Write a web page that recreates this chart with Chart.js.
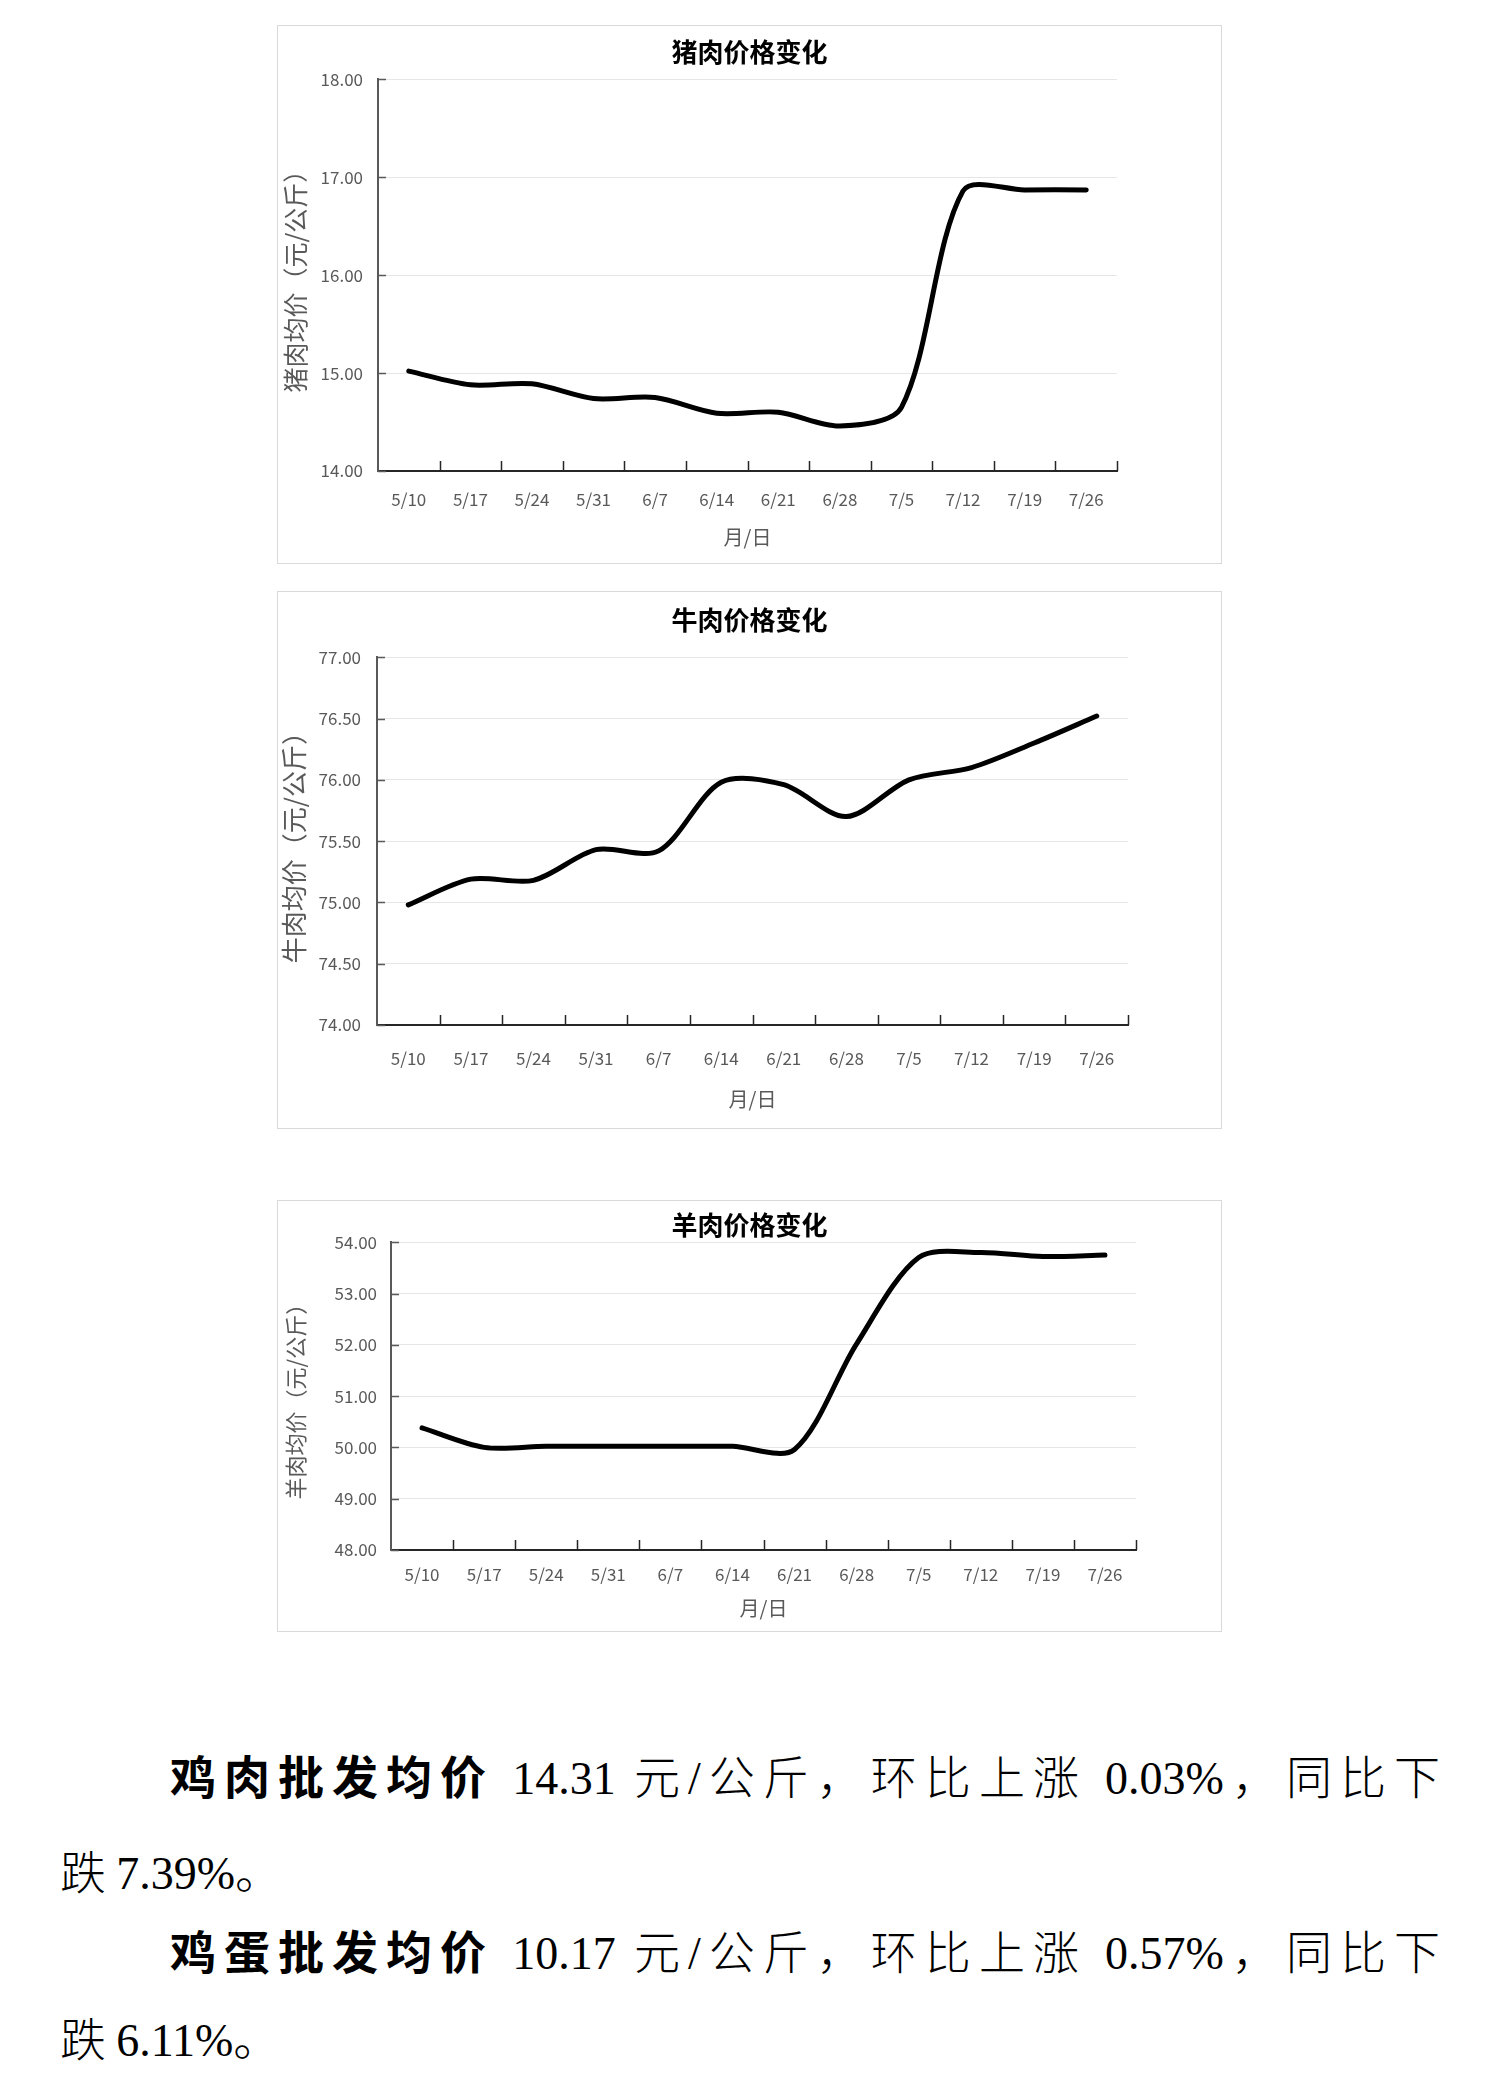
<!DOCTYPE html>
<html>
<head>
<meta charset="utf-8">
<script src="https://cdn.jsdelivr.net/npm/chart.js@4.4.1/dist/chart.umd.min.js"></script>
<style>
  body { margin: 0; background: #fff; width: 1500px; height: 2082px; position: relative; overflow: hidden; }
  .box { position: absolute; left: 277px; width: 943px; border: 1px solid #d9d9d9; }
  .box canvas { display: block; }
  .para { position: absolute; font-family: "Noto Sans CJK SC"; font-weight: 300; font-size: 46px; line-height: 60px; color: #000; }
  .para b { font-weight: 700; }
  .num { font-family: "Liberation Serif"; }
  .just { left: 170px; width: 1270px; text-align: justify; text-align-last: justify; }
  .tail { left: 60px; }
</style>
</head>
<body>
<div class="box" style="top:25px;height:537px;"><canvas id="porkChart"></canvas></div>
<div class="box" style="top:591px;height:536px;"><canvas id="beefChart"></canvas></div>
<div class="box" style="top:1200px;height:430px;"><canvas id="muttonChart"></canvas></div>

<div class="para just" style="top:1744px;"><b>鸡肉批发均价</b> <span class="num">14.31</span> 元<span class="num">/</span>公斤，环比上涨 <span class="num">0.03%</span>，同比下</div>
<div class="para tail" style="top:1839px;">跌 <span class="num">7.39%</span>。</div>
<div class="para just" style="top:1919px;"><b>鸡蛋批发均价</b> <span class="num">10.17</span> 元<span class="num">/</span>公斤，环比上涨 <span class="num">0.57%</span>，同比下</div>
<div class="para tail" style="top:2006px;">跌 <span class="num">6.11%</span>。</div>

<script>
// weekly dates (月/日)
const dates = ['5/10', '5/17', '5/24', '5/31', '6/7', '6/14', '6/21', '6/28', '7/5', '7/12', '7/19', '7/26'];

// average prices, 元/公斤
const porkPrices = [15.02, 14.88, 14.89, 14.74, 14.75, 14.59, 14.60, 14.46, 14.65, 16.86, 16.87, 16.87];
const beefPrices = [74.98, 75.19, 75.18, 75.43, 75.42, 75.98, 75.96, 75.70, 76.00, 76.10, 76.30, 76.52];
const muttonPrices = [50.38, 50.00, 50.02, 50.02, 50.02, 50.02, 49.96, 52.02, 53.70, 53.80, 53.72, 53.75];

// y axis: [min, max, step]
const porkAxis = [14, 18, 1];
const beefAxis = [74, 77, 0.5];
const muttonAxis = [48, 54, 1];

Chart.defaults.font.family = '"Noto Sans CJK SC", sans-serif';

// short tick marks drawn on the inner side of both axes
const innerTicks = {
    id: 'innerTicks',
    afterDraw(chart) {
        const { ctx, chartArea: a, scales: { x, y } } = chart;
        ctx.save();
        ctx.lineWidth = 1.5;
        ctx.strokeStyle = '#262626';
        ctx.beginPath();
        for (let i = 1; i <= x.ticks.length; i++) {
            const px = Math.round(x.getPixelForValue(i - 0.5)) + 0.5;
            ctx.moveTo(px, a.bottom);
            ctx.lineTo(px, a.bottom - 10);
        }
        ctx.stroke();
        ctx.strokeStyle = '#595959';
        ctx.beginPath();
        y.ticks.forEach(t => {
            const py = Math.round(y.getPixelForValue(t.value)) + 0.5;
            ctx.moveTo(a.left, py);
            ctx.lineTo(a.left + 8, py);
        });
        ctx.stroke();
        ctx.restore();
    }
};

function makeChart(id, title, yTitle, values, axis, lay) {
    return new Chart(document.getElementById(id), {
        type: 'line',
        data: {
            labels: dates,
            datasets: [{
                data: values,
                borderColor: '#000',
                borderWidth: 5,
                pointRadius: 0,
                tension: 0.3,
                fill: false,
                borderCapStyle: 'round',
                borderJoinStyle: 'round'
            }]
        },
        options: {
            responsive: true,
            maintainAspectRatio: false,
            animation: false,
            layout: { padding: 0 },
            plugins: {
                legend: { display: false },
                tooltip: { enabled: false },
                title: {
                    display: true,
                    text: title,
                    color: '#000',
                    font: { size: 26, weight: 'bold' },
                    padding: { top: lay.titleTop, bottom: lay.titleBottom }
                }
            },
            scales: {
                x: {
                    offset: true,
                    grid: { display: false },
                    border: { display: true, color: '#262626', width: 2 },
                    ticks: {
                        color: '#595959',
                        font: { size: 17 },
                        padding: lay.xPad,
                        maxRotation: 0,
                        autoSkip: false
                    },
                    title: {
                        display: true,
                        text: '月/日',
                        color: '#595959',
                        font: { size: 20 },
                        padding: { top: 0, bottom: lay.xTitlePad }
                    },
                    afterFit: s => { s.height = lay.xh; }
                },
                y: {
                    min: axis[0],
                    max: axis[1],
                    grid: { color: '#e6e6e6', lineWidth: 1, drawTicks: false },
                    border: { display: true, color: '#595959', width: 2 },
                    ticks: {
                        stepSize: axis[2],
                        color: '#595959',
                        font: { size: 17 },
                        padding: lay.yPad,
                        callback: v => Number(v).toFixed(2)
                    },
                    title: {
                        display: true,
                        text: yTitle,
                        color: '#595959',
                        font: { size: lay.yTitleSize },
                        padding: { top: lay.yTitlePad, bottom: 0 }
                    },
                    afterFit: s => { s.width = lay.yw; }
                },
                // empty right-hand margin, kept as an axis so the title stays centred on the canvas
                gap: {
                    position: 'right',
                    grid: { display: false },
                    border: { display: false },
                    ticks: { display: false },
                    afterFit: s => { s.width = lay.right; }
                }
            }
        },
        plugins: [innerTicks]
    });
}

makeChart('porkChart', '猪肉价格变化', '猪肉均价（元/公斤）', porkPrices, porkAxis,
    { right: 104, titleTop: 11, titleBottom: 11, xh: 92, yw: 100, xPad: 10, yPad: 15, xTitlePad: 14, yTitleSize: 25, yTitlePad: 2 });
makeChart('beefChart', '牛肉价格变化', '牛肉均价（元/公斤）', beefPrices, beefAxis,
    { right: 93, titleTop: 13, titleBottom: 21, xh: 103, yw: 99, xPad: 15, yPad: 16, xTitlePad: 17, yTitleSize: 26, yTitlePad: 1 });
makeChart('muttonChart', '羊肉价格变化', '羊肉均价（元/公斤）', muttonPrices, muttonAxis,
    { right: 85, titleTop: 9, titleBottom: 1, xh: 81, yw: 113, xPad: 6, yPad: 14, xTitlePad: 11, yTitleSize: 22, yTitlePad: 4 });
</script>
</body>
</html>
